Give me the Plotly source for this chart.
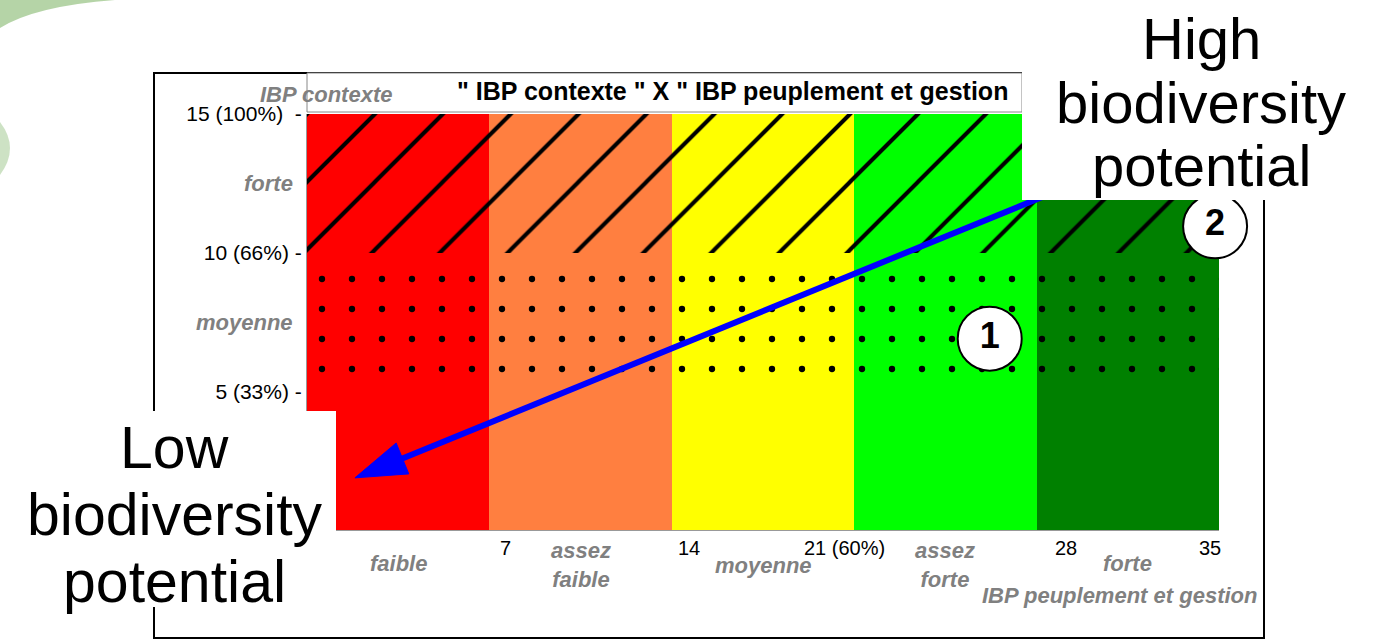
import plotly.graph_objects as go

W, H = 1375, 642

# ---------------- data ----------------
band_labels = ["faible", "assez<br>faible", "moyenne", "assez<br>forte", "forte"]
band_start = [0, 7, 14, 21, 28]
band_width = 7
band_colors = ["#FF0000", "#FF7F40", "#FFFF00", "#00FF00", "#008000"]

context_labels = ["faible", "moyenne", "forte"]
context_base = [0, 5, 10]
context_height = 5
context_patterns = ["", ".", "/"]

x_tickvals = [7, 14, 21, 28, 35]
x_ticktext = ["7", "14", "21 (60%)", "28", "35"]
y_tickvals = [5, 10, 15]
y_ticktext = ["5 (33%)", "10 (66%)", "15 (100%)"]

arrow_x = [29.5, 1.84]
arrow_y = [12.5, 1.88]

point_x = [26.2, 34.85]
point_y = [6.9, 10.95]
point_labels = ["1", "2"]

title_text = '" IBP contexte " X " IBP peuplement et gestion'
x_title = "IBP peuplement et gestion"
y_title = "IBP contexte"

FONT = "Liberation Sans, Arial, sans-serif"
GRAY = "#808080"


def px(x):
    return x / W


def py(y):
    return 1 - y / H


fig = go.Figure()

pat_size = {"": 10, ".": 30, "/": 48}
pat_solid = {"": 0.3, ".": 0.035, "/": 0.085}

for bname, start, col in zip(band_labels, band_start, band_colors):
    n = len(context_base)
    fig.add_trace(go.Bar(
        x=[start + band_width / 2] * n, y=[context_height] * n, base=context_base,
        width=band_width, name=bname.replace("<br>", " "),
        marker=dict(color=col, line=dict(width=0),
                    pattern=dict(shape=context_patterns,
                                 size=[pat_size[p] for p in context_patterns],
                                 solidity=[pat_solid[p] for p in context_patterns],
                                 bgcolor=col, fgcolor="black", fgopacity=1)),
        hoverinfo="skip", showlegend=False,
    ))

# blue arrow
fig.add_trace(go.Scatter(
    x=arrow_x, y=arrow_y, mode="lines+markers",
    line=dict(color="#0000FF", width=6),
    marker=dict(symbol=["circle", "arrow"], size=[0, 54], color="#0000FF", opacity=1,
                angleref="previous", line=dict(width=1, color="#0000FF")),
    opacity=1,
    hoverinfo="skip", showlegend=False, cliponaxis=False,
))

# numbered circles
fig.add_trace(go.Scatter(
    x=point_x, y=point_y, mode="markers+text",
    marker=dict(size=64, color="white", line=dict(color="black", width=2)),
    text=["<b>%s</b>" % t for t in point_labels], textposition="middle center",
    textfont=dict(size=36, color="black", family=FONT),
    hoverinfo="skip", showlegend=False, cliponaxis=False,
))

shapes = []
# outer frame
shapes.append(dict(type="rect", xref="paper", yref="paper", x0=px(154), x1=px(1264), y0=py(638), y1=py(73),
                   line=dict(color="black", width=2), fillcolor="rgba(0,0,0,0)", layer="below"))
# title box
shapes.append(dict(type="rect", xref="paper", yref="paper", x0=px(307), x1=px(1022), y0=py(112), y1=py(73),
                   line=dict(color="#888888", width=1), fillcolor="white", layer="above"))
# high potential box
shapes.append(dict(type="rect", xref="paper", yref="paper", x0=px(1022), x1=1.0, y0=py(200), y1=1.0,
                   line=dict(width=0), fillcolor="white", layer="above"))
# low potential box
shapes.append(dict(type="rect", xref="paper", yref="paper", x0=0, x1=px(336), y0=py(607), y1=py(411),
                   line=dict(width=0), fillcolor="white", layer="above"))
# decorative green swoosh (top-left)
shapes.append(dict(type="path", xref="paper", yref="paper",
                   path="M 0,1 L %f,1 Q %f,%f 0,%f Z" % (px(115), px(35), py(6), py(28)),
                   line=dict(width=0), fillcolor="rgba(90,160,60,0.45)", layer="above"))
shapes.append(dict(type="path", xref="paper", yref="paper",
                   path="M 0,%f Q %f,%f 0,%f Z" % (py(122), px(20), py(148), py(175)),
                   line=dict(width=0), fillcolor="rgba(90,160,60,0.3)", layer="above"))

annotations = []
# title
annotations.append(dict(text="<b>%s</b>" % title_text, xref="paper", yref="paper", x=px(732), y=py(91),
                        showarrow=False, font=dict(size=25, color="black", family=FONT),
                        xanchor="center", yanchor="middle"))
# y title
annotations.append(dict(text="<b><i>%s</i></b>" % y_title, xref="paper", yref="paper", x=px(394), y=py(94),
                        showarrow=False, font=dict(size=22, color=GRAY, family=FONT),
                        xanchor="right", yanchor="middle"))
# y category labels (only the visible ones)
for lab, base in zip(context_labels, context_base):
    if lab == "faible":
        continue
    annotations.append(dict(text="<b><i>%s</i></b>" % lab, xref="paper", yref="y",
                            x=px(295), y=base + context_height / 2, showarrow=False,
                            font=dict(size=22, color=GRAY, family=FONT), xanchor="right", yanchor="middle"))
# x category labels
x_lab_y = {"faible": 563, "moyenne": 565, "forte": 563}
for lab, start in zip(band_labels, band_start):
    yy = x_lab_y.get(lab, 565)
    annotations.append(dict(text="<b><i>%s</i></b>" % lab, xref="x", yref="paper",
                            x=start + band_width / 2, y=py(yy), showarrow=False,
                            font=dict(size=22, color=GRAY, family=FONT), xanchor="center", yanchor="middle"))
# x title
annotations.append(dict(text="<b><i>%s</i></b>" % x_title, xref="paper", yref="paper", x=px(1119), y=py(595),
                        showarrow=False, font=dict(size=22, color=GRAY, family=FONT),
                        xanchor="center", yanchor="middle"))
# x tick labels
x_tick_shift = [16, 17, -10, 29, -9]
for v, t, s in zip(x_tickvals, x_ticktext, x_tick_shift):
    annotations.append(dict(text=t, xref="x", yref="paper", x=v, y=py(548), xshift=s,
                            showarrow=False, font=dict(size=20, color="black", family=FONT),
                            xanchor="center", yanchor="middle"))
# big captions
for i, line in enumerate(["High", "biodiversity", "potential"]):
    annotations.append(dict(text=line, xref="paper", yref="paper", x=px(1201), y=py([38, 102, 166][i]),
                            showarrow=False, font=dict(size=58, color="black", family=FONT),
                            xanchor="center", yanchor="middle", borderpad=0))
for i, line in enumerate(["Low", "biodiversity", "potential"]):
    annotations.append(dict(text=line, xref="paper", yref="paper", x=px(175), y=py([448, 515, 582][i]),
                            showarrow=False, font=dict(size=59, color="black", family=FONT),
                            xanchor="center", yanchor="middle", borderpad=0))

fig.update_layout(
    width=W, height=H,
    margin=dict(l=0, r=0, t=0, b=0, pad=0, autoexpand=False),
    paper_bgcolor="white", plot_bgcolor="white",
    barmode="overlay", bargap=0,
    font=dict(family=FONT, size=20, color="black"),
    shapes=shapes, annotations=annotations,
    xaxis=dict(domain=[px(307), px(1219)], range=[0, 35], showgrid=False, zeroline=False,
               showticklabels=False, ticks="", showline=True, linecolor="#999999", linewidth=1),
    yaxis=dict(domain=[py(530), py(114)], range=[0, 15], showgrid=False, zeroline=False,
               tickvals=y_tickvals,
               ticktext=[t + ("\u00a0\u00a0-" if v == 15 else "\u00a0-") for v, t in zip(y_tickvals, y_ticktext)],
               ticks="", tickfont=dict(size=21, color="black", family=FONT),
               showline=True, linecolor="#999999", linewidth=1),
)

fig.write_html("out.html", config={"displayModeBar": False},
               post_script="document.body.style.margin='0';document.body.style.padding='0';"
                           "document.documentElement.style.margin='0';")
